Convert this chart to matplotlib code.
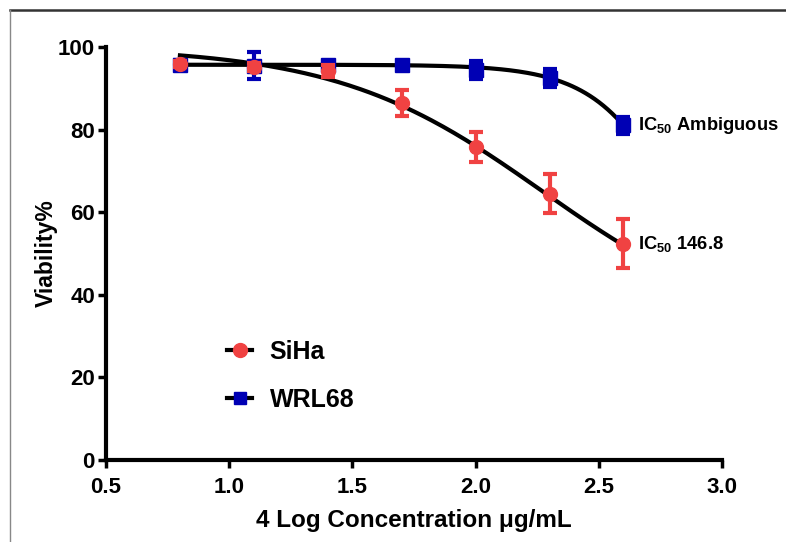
import numpy as np
import matplotlib.pyplot as plt
from matplotlib.lines import Line2D

plt.rcParams['font.family'] = ['Liberation Sans', 'DejaVu Sans']
plt.rcParams['mathtext.fontset'] = 'custom'
plt.rcParams['mathtext.bf'] = 'Liberation Sans:bold'
plt.rcParams['mathtext.rm'] = 'Liberation Sans'

# log concentration and viability (%)
log_conc = [0.8, 1.1, 1.4, 1.7, 2.0, 2.3, 2.6]
siha = [95.9, 95.2, 94.2, 86.4, 75.8, 64.5, 52.4]
siha_err = [0.8, 1.0, 1.5, 3.2, 3.7, 4.8, 6.0]
wrl68 = [95.7, 95.5, 95.7, 95.6, 94.5, 92.5, 81.0]
wrl68_err = [1.2, 3.2, 1.0, 0.8, 2.2, 2.2, 2.0]

# four-parameter logistic fit parameters (top, bottom, logEC50, hill)
siha_fit = (100.0, 30.0, 2.273, 1.036)
wrl68_fit = (95.7, 0.0, 2.909, 2.4)


def logistic(x, top, bottom, c, h):
    return bottom + (top - bottom) / (1 + 10 ** ((x - c) * h))


red = '#f04242'
blue = '#0000b4'

fig = plt.figure(figsize=(7.86, 5.42), dpi=100)
ax = fig.add_axes([0.1349, 0.1513, 0.7837, 0.762])

xs = np.linspace(0.8, 2.6, 200)
ax.plot(xs, logistic(xs, *siha_fit), color='black', lw=3, zorder=2)
ax.plot(xs, logistic(xs, *wrl68_fit), color='black', lw=3, zorder=2)

ax.errorbar(log_conc, wrl68, yerr=wrl68_err, fmt='s', color=blue, ms=10,
            elinewidth=3, capsize=5, capthick=3, zorder=3)
ax.errorbar(log_conc, siha, yerr=siha_err, fmt='o', color=red, ms=10,
            elinewidth=3, capsize=5, capthick=3, zorder=4)

ax.text(2.66, wrl68[-1], r'IC$_\mathbf{50}$ Ambiguous', fontsize=13.2, fontweight='bold',
        va='center', ha='left')
ax.text(2.66, siha[-1], r'IC$_\mathbf{50}$ 146.8', fontsize=13.2, fontweight='bold',
        va='center', ha='left')

handles = [
    Line2D([], [], color='black', lw=3, marker='o', ms=10, mfc=red, mec=red),
    Line2D([], [], color='black', lw=3, marker='s', ms=9, mfc=blue, mec=blue),
]
ax.legend(handles, ['SiHa', 'WRL68'], loc='upper left', bbox_to_anchor=(0.16, 0.345),
          frameon=False, handlelength=1.0, labelspacing=0.95, handletextpad=0.7,
          prop={'weight': 'bold', 'size': 18})

ax.set_xlim(0.5, 3.0)
ax.set_ylim(0, 100)
ax.set_xticks([0.5, 1.0, 1.5, 2.0, 2.5, 3.0])
ax.set_xticklabels(['0.5', '1.0', '1.5', '2.0', '2.5', '3.0'])
ax.set_yticks([0, 20, 40, 60, 80, 100])
ax.spines[['top', 'right']].set_visible(False)
for s in ['left', 'bottom']:
    ax.spines[s].set_linewidth(3)
ax.tick_params(direction='out', length=6, width=2.5, labelsize=16)
ax.tick_params(axis='x', pad=6)
ax.tick_params(axis='y', pad=2)
for lab in ax.get_xticklabels() + ax.get_yticklabels():
    lab.set_fontweight('bold')

ax.set_xlabel('4 Log Concentration \u03bcg/mL', fontsize=17.5, fontweight='bold', labelpad=8)
ax.set_ylabel('Viability%', fontsize=16.5, fontweight='bold', labelpad=0)

# picture frame
fig.add_artist(Line2D([10 / 786, 1], [1 - 10 / 542, 1 - 10 / 542], color='#333333', lw=1.8))
fig.add_artist(Line2D([10 / 786, 10 / 786], [0, 1 - 10 / 542], color='#888888', lw=1))

fig.savefig('out.png', dpi=100)
